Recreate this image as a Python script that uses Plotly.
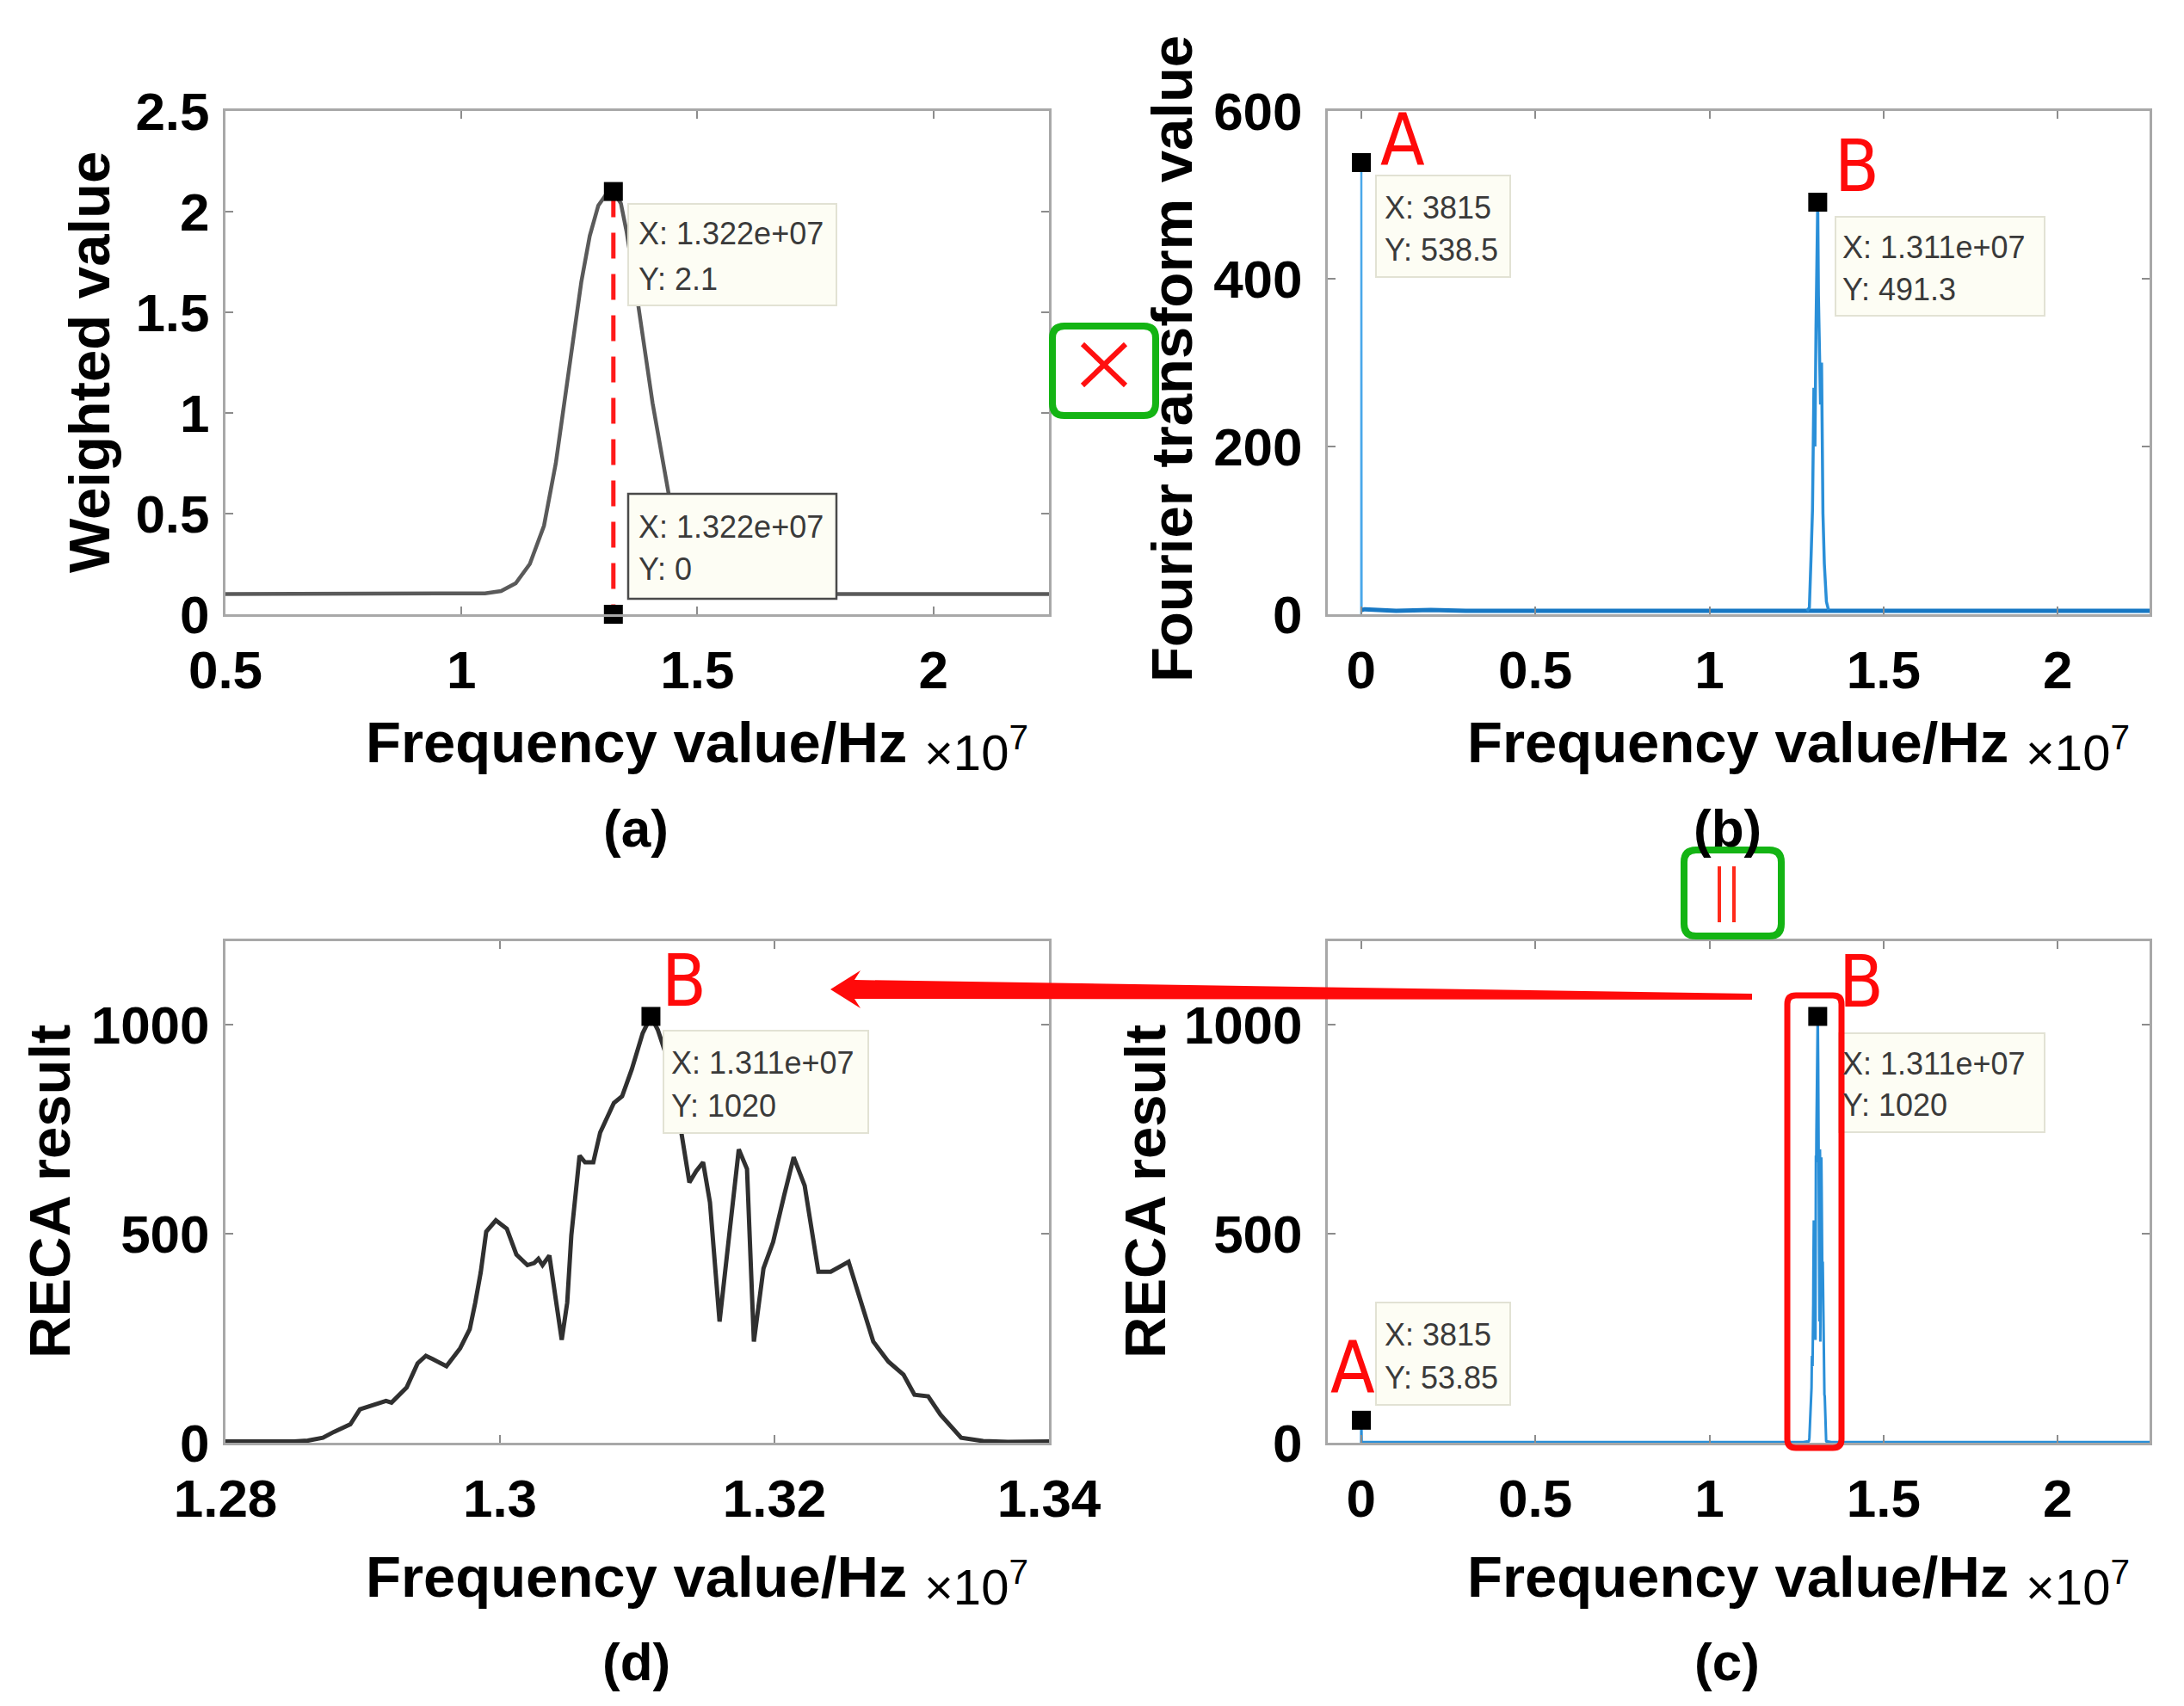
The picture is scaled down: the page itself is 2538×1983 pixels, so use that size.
import plotly.graph_objects as go

W, H = 2538, 1983
OFF = 8  # page body margin in the browser

# ---------------- data (frequency in units of 1e7 Hz) ----------------
# (a) weighting curve
a_freq = [0.5, 1.0, 1.05, 1.084, 1.115, 1.145, 1.175, 1.2, 1.218, 1.236, 1.254,
          1.272, 1.29, 1.305, 1.322, 1.338, 1.35, 1.375, 1.405, 1.439, 1.472, 2.245]
a_weight = [0.1, 0.1, 0.104, 0.115, 0.154, 0.25, 0.44, 0.75, 1.04, 1.33, 1.65,
            1.88, 2.03, 2.08, 2.1, 2.04, 1.9, 1.53, 1.05, 0.6, 0.1, 0.1]
a_tip_freq = [1.322, 1.322]
a_tip_val = [2.1, 0.0]

# (b) Fourier transform
b_spike_freq = [0.0, 0.0003815, 0.0012]
b_spike_val = [0.0, 538.5, 5.0]
b_base1_freq = [0.0012, 0.01, 0.1, 0.2, 0.3, 0.4, 0.5, 0.6, 0.7, 0.8, 0.9, 1.0, 1.1, 1.2, 1.28]
b_base1_val = [5, 6, 4, 5, 4, 4, 5, 4, 4, 5, 4, 4, 5, 4, 4]
b_peak_freq = [1.280, 1.287, 1.292, 1.296, 1.300, 1.303, 1.306, 1.309, 1.311,
               1.313, 1.316, 1.319, 1.322, 1.326, 1.330, 1.336, 1.342]
b_peak_val = [4, 8, 70, 125, 270, 200, 340, 420, 491.3, 380, 330, 250, 300, 120, 60, 15, 5]
b_base2_freq = [1.342, 1.35, 1.45, 1.55, 1.65, 1.75, 1.85, 1.95, 2.05, 2.15, 2.264]
b_base2_val = [5, 4, 5, 4, 4, 5, 4, 4, 5, 4, 4]
b_tip_freq = [0.0003815, 1.311]
b_tip_val = [538.5, 491.3]

# (d) RECA result, zoomed band
d_freq = [1.2800, 1.2830, 1.2850, 1.2860, 1.2871, 1.2879, 1.2891, 1.2898, 1.2905, 1.2910,
          1.2917, 1.2921, 1.2925, 1.2932, 1.2940, 1.2946, 1.2951, 1.2961, 1.2971, 1.2978,
          1.2982, 1.2986, 1.2990, 1.2997, 1.3005, 1.3012, 1.3020, 1.3025, 1.3028, 1.3031,
          1.3036, 1.3041, 1.3045, 1.3049, 1.3052, 1.3058, 1.3062, 1.3068, 1.3073, 1.3083,
          1.3089, 1.3096, 1.3104, 1.3110, 1.3115, 1.3123, 1.3131, 1.3138, 1.3143, 1.3148,
          1.3153, 1.3160, 1.3167, 1.3174, 1.3180, 1.3185, 1.3192, 1.3199, 1.3207, 1.3214,
          1.3222, 1.3232, 1.3241, 1.3249, 1.3254, 1.3260, 1.3272, 1.3283, 1.3294, 1.3302,
          1.3312, 1.3321, 1.3336, 1.3352, 1.3370, 1.3400]
d_reca = [3, 2, 3, 5, 12, 26, 44, 80, 88, 92,
          100, 96, 110, 132, 190, 208, 200, 183, 226, 272,
          335, 408, 505, 532, 512, 450, 425, 430, 440, 425,
          448, 335, 246, 335, 496, 687, 671, 671, 742, 813,
          829, 893, 980, 1020, 988, 909, 766, 623, 650, 671,
          575, 290, 496, 702, 655, 242, 417, 480, 591, 683,
          615, 409, 409, 425, 433, 369, 242, 194, 163, 115,
          111, 67, 12, 4, 2, 3]
d_tip_freq = [1.311]
d_tip_val = [1020]

# (c) RECA result, full range (band = d data)
c_low_freq = [0.0, 0.0003815, 0.0012, 0.3, 0.6, 0.9, 1.2, 1.27]
c_low_val = [0, 53.85, 1.5, 1.5, 1.2, 1.5, 1.4, 1.5]
c_high_freq = [1.35, 1.6, 1.9, 2.264]
c_high_val = [1.5, 1.3, 1.5, 1.4]
c_tip_freq = [0.0003815, 1.311]
c_tip_val = [53.85, 1020]

# tick labels
a_xticks = [0.5, 1, 1.5, 2]
a_xtext = ["0.5", "1", "1.5", "2"]
a_yticks = [0, 0.5, 1, 1.5, 2, 2.5]
a_ytext = ["0", "0.5", "1", "1.5", "2", "2.5"]
bc_xticks = [0, 0.5, 1, 1.5, 2]
bc_xtext = ["0", "0.5", "1", "1.5", "2"]
b_yticks = [0, 200, 400, 600]
b_ytext = ["0", "200", "400", "600"]
d_xticks = [1.28, 1.30, 1.32, 1.34]
d_xtext = ["1.28", "1.3", "1.32", "1.34"]
cd_yticks = [0, 500, 1000]
cd_ytext = ["0", "500", "1000"]

# ---------------- helpers ----------------
def X(px):
    return (px - OFF) / W


def Y(py):
    return 1 - (py - OFF) / H


FONT = "Liberation Sans, Arial, sans-serif"
NARROW = "Liberation Sans Narrow, DejaVu Sans Condensed, Liberation Sans, sans-serif"
BLUE = "#2a8fd8"
BLUE_DARK = "#1778c4"

fig = go.Figure()

# (a)
fig.add_trace(go.Scatter(x=a_freq, y=a_weight, mode="lines",
                         line=dict(color="#5a5a5a", width=4.5), xaxis="x", yaxis="y"))
fig.add_trace(go.Scatter(x=a_tip_freq, y=a_tip_val, mode="lines",
                         line=dict(color="#ff1a1a", width=5, dash="30px,18px"),
                         xaxis="x", yaxis="y", cliponaxis=False))
fig.add_trace(go.Scatter(x=a_tip_freq, y=a_tip_val, mode="markers",
                         marker=dict(symbol="square", size=22, color="black"),
                         xaxis="x", yaxis="y", cliponaxis=False))
# (b)
fig.add_trace(go.Scatter(x=b_spike_freq, y=b_spike_val, mode="lines",
                         line=dict(color="#4aa8ea", width=2.5), xaxis="x2", yaxis="y2"))
fig.add_trace(go.Scatter(x=b_base1_freq + b_base2_freq, y=b_base1_val + b_base2_val,
                         mode="lines", connectgaps=False,
                         line=dict(color=BLUE_DARK, width=5), xaxis="x2", yaxis="y2"))
fig.add_trace(go.Scatter(x=b_peak_freq, y=b_peak_val, mode="lines",
                         line=dict(color=BLUE, width=3.5), xaxis="x2", yaxis="y2"))
fig.add_trace(go.Scatter(x=b_tip_freq, y=b_tip_val, mode="markers",
                         marker=dict(symbol="square", size=22, color="black"),
                         xaxis="x2", yaxis="y2", cliponaxis=False))
# (d)
fig.add_trace(go.Scatter(x=d_freq, y=d_reca, mode="lines",
                         line=dict(color="#303030", width=5), xaxis="x3", yaxis="y3"))
fig.add_trace(go.Scatter(x=d_tip_freq, y=d_tip_val, mode="markers",
                         marker=dict(symbol="square", size=22, color="black"),
                         xaxis="x3", yaxis="y3", cliponaxis=False))
# (c)
c_x = c_low_freq + d_freq + c_high_freq
c_y = c_low_val + d_reca + c_high_val
fig.add_trace(go.Scatter(x=c_x, y=c_y, mode="lines", line=dict(color=BLUE, width=3),
                         xaxis="x4", yaxis="y4"))
fig.add_trace(go.Scatter(x=c_tip_freq, y=c_tip_val, mode="markers",
                         marker=dict(symbol="square", size=22, color="black"),
                         xaxis="x4", yaxis="y4", cliponaxis=False))

axis_common = dict(showline=True, linecolor="#a8a8a8", linewidth=3, mirror="ticks",
                   ticks="inside", ticklen=9, tickwidth=2, tickcolor="#8c8c8c",
                   showgrid=False, zeroline=False, tickmode="array", automargin=False,
                   tickfont=dict(family=FONT, size=62, color="black", weight="bold"))

top = [Y(714), Y(129)]
bot = [Y(1677), Y(1094)]
left = [X(262), X(1219)]
right = [X(1543), X(2498)]

fig.update_layout(
    template="none",
    width=W, height=H, margin=dict(l=0, r=0, t=0, b=0, autoexpand=False),
    paper_bgcolor="white", plot_bgcolor="white", showlegend=False,
    xaxis=dict(domain=left, range=[0.5, 2.245], tickvals=a_xticks, ticktext=a_xtext,
               anchor="y", ticklabelstandoff=9, **axis_common),
    yaxis=dict(domain=top, range=[0, 2.5], tickvals=a_yticks, ticktext=a_ytext,
               anchor="x", ticklabelstandoff=3, **axis_common),
    xaxis2=dict(domain=right, range=[-0.096, 2.264], tickvals=bc_xticks, ticktext=bc_xtext,
                anchor="y2", ticklabelstandoff=9, **axis_common),
    yaxis2=dict(domain=top, range=[0, 600], tickvals=b_yticks, ticktext=b_ytext,
                anchor="x2", ticklabelstandoff=14, **axis_common),
    xaxis3=dict(domain=left, range=[1.28, 1.34], tickvals=d_xticks, ticktext=d_xtext,
                anchor="y3", ticklabelstandoff=9, **axis_common),
    yaxis3=dict(domain=bot, range=[0, 1200], tickvals=cd_yticks, ticktext=cd_ytext,
                anchor="x3", ticklabelstandoff=3, **axis_common),
    xaxis4=dict(domain=right, range=[-0.096, 2.264], tickvals=bc_xticks, ticktext=bc_xtext,
                anchor="y4", ticklabelstandoff=9, **axis_common),
    yaxis4=dict(domain=bot, range=[0, 1200], tickvals=cd_yticks, ticktext=cd_ytext,
                anchor="x4", ticklabelstandoff=14, **axis_common),
)

shapes = []
annotations = []


def rrect(x0, y0, x1, y1, r):
    pts = [("M", x0 + r, y0), ("L", x1 - r, y0), ("Q", x1, y0, x1, y0 + r),
           ("L", x1, y1 - r), ("Q", x1, y1, x1 - r, y1), ("L", x0 + r, y1),
           ("Q", x0, y1, x0, y1 - r), ("L", x0, y0 + r), ("Q", x0, y0, x0 + r, y0)]
    s = ""
    for p in pts:
        cmd = p[0]
        coords = p[1:]
        pairs = []
        for i in range(0, len(coords), 2):
            pairs.append(f"{X(coords[i]):.5f},{Y(coords[i + 1]):.5f}")
        s += cmd + " " + " ".join(pairs) + " "
    return s + "Z"


def poly(points):
    s = "M " + " L ".join(f"{X(px):.5f},{Y(py):.5f}" for px, py in points) + " Z"
    return s


def tipbox(x0, y0, x1, y1, dark=False):
    shapes.append(dict(type="rect", xref="paper", yref="paper", x0=X(x0), x1=X(x1),
                       y0=Y(y1), y1=Y(y0), fillcolor="#fdfdf4",
                       line=dict(color="#4a4a4a" if dark else "#e2e2d4", width=2.5 if dark else 2),
                       layer="above"))


def tiptext(xl, yc1, yc2, xv, yv):
    annotations.append(dict(xref="paper", yref="paper", x=X(xl), y=Y(yc1), xanchor="left",
                            yanchor="middle", showarrow=False, text=f"X: {xv * 1e7:.4g}",
                            font=dict(family=FONT, size=36, color="#3a3a3a")))
    annotations.append(dict(xref="paper", yref="paper", x=X(xl), y=Y(yc2), xanchor="left",
                            yanchor="middle", showarrow=False, text=f"Y: {yv:.4g}",
                            font=dict(family=FONT, size=36, color="#3a3a3a")))


# data tips
tipbox(730, 237, 972, 355)
tiptext(740, 272, 324, a_tip_freq[0], a_tip_val[0])
tipbox(730, 574, 972, 696, dark=True)
tiptext(740, 612, 661, a_tip_freq[1], a_tip_val[1])
tipbox(1599, 204, 1755, 322)
tiptext(1607, 241, 290, b_tip_freq[0], b_tip_val[0])
tipbox(2133, 252, 2376, 367)
tiptext(2139, 287, 336, b_tip_freq[1], b_tip_val[1])
tipbox(771, 1198, 1009, 1317)
tiptext(778, 1235, 1285, d_tip_freq[0], d_tip_val[0])
tipbox(2137, 1201, 2376, 1316)
tiptext(2139, 1236, 1284, c_tip_freq[1], c_tip_val[1])
tipbox(1599, 1514, 1755, 1633)
tiptext(1607, 1551, 1601, c_tip_freq[0], c_tip_val[0])

# red rectangle around B in (c)
shapes.append(dict(type="path", xref="paper", yref="paper", path=rrect(2077, 1157, 2140, 1683, 10),
                   line=dict(color="#ff0a0a", width=7), layer="above"))
# green box with X
GREEN = "#14b414"
shapes.append(dict(type="path", xref="paper", yref="paper", path=rrect(1223, 379, 1343, 483, 14),
                   line=dict(color=GREEN, width=8), fillcolor="white", layer="above"))
shapes.append(dict(type="line", xref="paper", yref="paper", x0=X(1258), y0=Y(400), x1=X(1308), y1=Y(448),
                   line=dict(color="#ff1010", width=6), layer="above"))
shapes.append(dict(type="line", xref="paper", yref="paper", x0=X(1258), y0=Y(448), x1=X(1308), y1=Y(400),
                   line=dict(color="#ff1010", width=6), layer="above"))
# green box with ||
shapes.append(dict(type="path", xref="paper", yref="paper", path=rrect(1957, 988, 2070, 1088, 14),
                   line=dict(color=GREEN, width=8), fillcolor="white", layer="above"))
for xx in (1998, 2015):
    shapes.append(dict(type="line", xref="paper", yref="paper", x0=X(xx), y0=Y(1007), x1=X(xx), y1=Y(1072),
                       line=dict(color="#ff2a1a", width=4), layer="above"))
# tapered arrow from (c) to (d)
shapes.append(dict(type="path", xref="paper", yref="paper",
                   path=poly([(965, 1150), (1000, 1128), (993, 1139), (2036, 1155),
                              (2036, 1162), (993, 1161), (1000, 1172)]),
                   fillcolor="#ff0a0a", line=dict(width=0), layer="above"))

# axis titles
def title(text, x, y, angle=0, size=67):
    annotations.append(dict(xref="paper", yref="paper", x=X(x), y=Y(y), xanchor="center",
                            yanchor="middle", showarrow=False, text=text, textangle=angle,
                            font=dict(family=FONT, size=size, color="black", weight="bold")))


def times10(x, y):
    annotations.append(dict(xref="paper", yref="paper", x=X(x), y=Y(y), xanchor="left",
                            yanchor="middle", showarrow=False, text="\u00d710<sup>7</sup>",
                            font=dict(family=FONT, size=58, color="black")))


title("Frequency value/Hz", 739, 862)
times10(1072, 870)
title("Frequency value/Hz", 2019, 862)
times10(2352, 870)
title("Frequency value/Hz", 739, 1832)
times10(1072, 1840)
title("Frequency value/Hz", 2019, 1832)
times10(2352, 1840)

title("Weighted value", 103, 421, -90)
title("Fourier transform value", 1361, 417, -90)
title("RECA result", 57, 1385, -90)
title("RECA result", 1330, 1385, -90)

# panel labels
for lab, x, y in (("(a)", 739, 962), ("(b)", 2007, 962), ("(d)", 739, 1931), ("(c)", 2007, 1931)):
    title(lab, x, y, 0, 62)

# A / B letters
for lab, x, y in (("A", 1630, 163), ("B", 2158, 193), ("B", 795, 1140),
                  ("B", 2163, 1141), ("A", 1572, 1590)):
    annotations.append(dict(xref="paper", yref="paper", x=X(x), y=Y(y), xanchor="center",
                            yanchor="middle", showarrow=False, text=lab,
                            font=dict(family=NARROW, size=84, color="#ff0a0a")))

fig.update_layout(shapes=shapes, annotations=annotations)
fig.write_html("out.html", config={"displayModeBar": False})
